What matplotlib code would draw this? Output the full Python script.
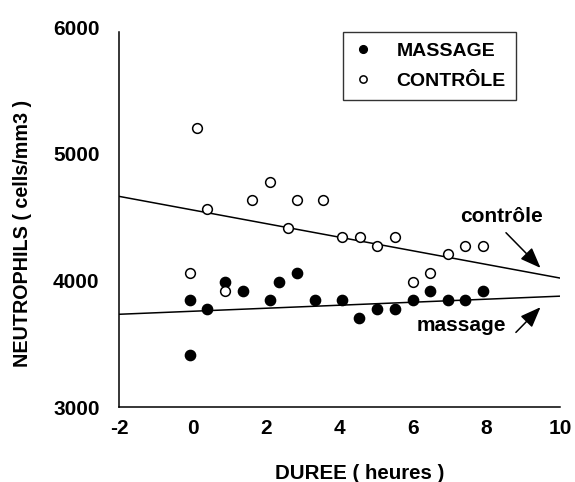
import matplotlib
matplotlib.use("Agg")
import matplotlib.pyplot as plt

plt.rcParams['font.family'] = ['Liberation Sans', 'DejaVu Sans']
plt.rcParams['font.weight'] = 'bold'
plt.rcParams['axes.unicode_minus'] = False

# Data (time in hours, neutrophils in cells/mm3)
massage_x = [-0.08, -0.08, 0.40, 0.89, 1.38, 2.11, 2.36, 2.84, 3.32, 4.06,
             4.53, 5.03, 5.51, 5.99, 6.46, 6.95, 7.42, 7.91]
massage_y = [3846, 3414, 3774, 3986, 3915, 3846, 3986, 4056, 3846, 3846,
             3700, 3774, 3774, 3846, 3917, 3846, 3846, 3917]

controle_x = [0.13, -0.08, 0.40, 0.89, 1.61, 2.11, 2.59, 2.84, 3.56, 4.06,
              4.55, 5.03, 5.51, 5.99, 6.46, 6.95, 7.42, 7.91]
controle_y = [5204, 4056, 4562, 3915, 4631, 4774, 4414, 4631, 4631, 4344,
              4344, 4270, 4344, 3989, 4060, 4204, 4270, 4270]

fit_x = [-2, 10]
controle_fit = [4663, 4018]
massage_fit = [3732, 3875]

x_ticks = [-2, 0, 2, 4, 6, 8, 10]
y_ticks = [3000, 4000, 5000, 6000]

fig = plt.figure(figsize=(5.75, 4.82), dpi=100)
ax = fig.add_axes([119/575, 1-407/482, (560-119)/575, (407-27)/482])

ax.plot(fit_x, controle_fit, color='black', lw=1.1, zorder=2)
ax.plot(fit_x, massage_fit, color='black', lw=1.1, zorder=2)

ax.plot(massage_x, massage_y, 'o', ms=7.4, mfc='black', mec='black',
        label='MASSAGE', zorder=3)
ax.plot(controle_x, controle_y, 'o', ms=7, mfc='white', mec='black', mew=1.1,
        label='CONTRÔLE', zorder=3)

ax.set_xlim(-2, 10)
ax.set_ylim(3000, 6000)
ax.set_xticks(x_ticks)
ax.set_yticks(y_ticks)
ax.tick_params(length=0, labelsize=15)
ax.tick_params(axis='y', pad=14)
ax.tick_params(axis='x', pad=9)
for lab in ax.get_xticklabels() + ax.get_yticklabels():
    lab.set_fontweight('bold')
ax.spines['top'].set_visible(False)
ax.spines['right'].set_visible(False)
ax.spines['left'].set_bounds(3000, 5960)
for s in ('left', 'bottom'):
    ax.spines[s].set_linewidth(1.1)

ax.set_xlabel('DUREE ( heures )', fontsize=14.8, fontweight='bold')
ax.set_ylabel('NEUTROPHILS ( cells/mm3 )', fontsize=14.2, fontweight='bold')
ax.xaxis.set_label_coords(0.546, -0.150)
ax.yaxis.set_label_coords(-0.198, 0.458)

ax.text(8.42, 4503, 'contrôle', fontsize=15, fontweight='bold',
        ha='center', va='center')
ax.text(7.32, 3644, 'massage', fontsize=15, fontweight='bold',
        ha='center', va='center')
arrow = dict(arrowstyle='-|>,head_length=0.9,head_width=0.35', color='black',
             lw=1.1, shrinkA=0, shrinkB=0, mutation_scale=14)
ax.annotate('', xy=(9.47, 4098), xytext=(8.53, 4376), arrowprops=arrow)
ax.annotate('', xy=(9.47, 3788), xytext=(8.80, 3589), arrowprops=arrow)

leg = ax.legend(loc='upper left', bbox_to_anchor=(0.508, 0.987), borderaxespad=0,
                frameon=True, fancybox=False, edgecolor='black', fontsize=14,
                markerscale=0.75, handlelength=1.0, handletextpad=1.2,
                borderpad=0.55, labelspacing=0.6)
leg.get_frame().set_linewidth(1.0)
for t in leg.get_texts():
    t.set_fontweight('bold')

fig.savefig('out.png', dpi=100)
